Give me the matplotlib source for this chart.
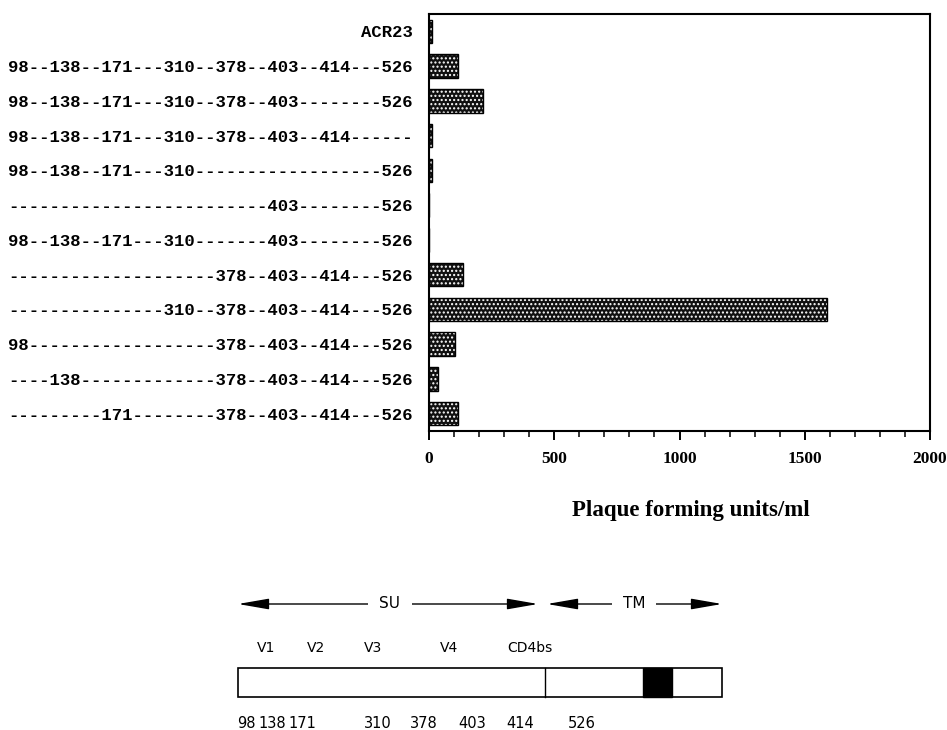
import matplotlib.pyplot as plt
from matplotlib.patches import Rectangle
from matplotlib.ticker import MultipleLocator

# constructs, top to bottom
constructs = [
    "ACR23",
    "98--138--171---310--378--403--414---526",
    "98--138--171---310--378--403--------526",
    "98--138--171---310--378--403--414------",
    "98--138--171---310------------------526",
    "-------------------------403--------526",
    "98--138--171---310-------403--------526",
    "--------------------378--403--414---526",
    "---------------310--378--403--414---526",
    "98------------------378--403--414---526",
    "----138-------------378--403--414---526",
    "---------171--------378--403--414---526",
]
pfu = [12, 116, 215, 12, 12, 0, 0, 136, 1590, 104, 36, 116]

# env schematic
region_names = ["V1", "V2", "V3", "V4", "CD4bs"]
region_x = [266, 316, 373, 449, 530]
residues = ["98", "138", "171", "310", "378", "403", "414", "526"]
residue_x = [246, 272, 302, 378, 424, 472, 520, 582]

W, H = 947, 730
fig = plt.figure(figsize=(W / 100, H / 100), dpi=100)

ax = fig.add_axes([429 / W, 1 - 431 / H, (930 - 429) / W, (431 - 14) / H])
ypos = list(range(len(constructs)))
ax.barh(ypos, pfu, height=0.68, color="#101010", edgecolor="white",
        hatch="....", linewidth=0)
ax.barh(ypos, pfu, height=0.68, fill=False, edgecolor="black", linewidth=1)

ax.set_xlim(0, 2000)
ax.set_ylim(11.5, -0.5)
ax.xaxis.set_major_locator(MultipleLocator(500))
ax.xaxis.set_minor_locator(MultipleLocator(100))
ax.tick_params(axis="x", which="major", length=6.5, width=1.4, pad=8)
ax.tick_params(axis="x", which="minor", length=4, width=1.1)
ax.tick_params(axis="y", length=0, pad=11.5)
for lbl in ax.get_xticklabels():
    lbl.set_fontfamily("Liberation Serif")
    lbl.set_fontweight("bold")
    lbl.set_fontsize(12.5)
ax.set_yticks(ypos)
ax.set_yticklabels(constructs, fontfamily="Liberation Mono",
                   fontweight="bold", fontsize=12.4)
for s in ax.spines.values():
    s.set_linewidth(1.5)

ax.set_xlabel("Plaque forming units/ml", fontfamily="Liberation Serif",
              fontweight="bold", fontsize=16.5)
ax.xaxis.set_label_coords(0.523, -0.19)
ax.xaxis.label.set_va("center")

# schematic of the envelope protein
sk = fig.add_axes([0, 0, 1, 1])
sk.set_xlim(0, W)
sk.set_ylim(H, 0)
sk.axis("off")

arrow_kw = dict(arrowstyle="<|-|>,head_length=1.9,head_width=0.33",
                color="black", lw=1, shrinkA=0, shrinkB=0)
sk.annotate("", xy=(538, 604), xytext=(238, 604), arrowprops=arrow_kw)
sk.annotate("", xy=(722, 604), xytext=(547, 604), arrowprops=arrow_kw)
for name, x in [("SU", 390), ("TM", 634)]:
    sk.text(x, 604, name, ha="center", va="center", fontsize=11,
            bbox=dict(facecolor="white", edgecolor="none", pad=8))

for name, x in zip(region_names, region_x):
    sk.text(x, 648, name, ha="center", va="center", fontsize=10)

sk.add_patch(Rectangle((238, 668), 722 - 238, 29, facecolor="white",
                       edgecolor="black", lw=1.2))
sk.plot([545, 545], [668, 697], color="black", lw=1)
sk.add_patch(Rectangle((643, 668), 29, 29, facecolor="black",
                       edgecolor="black", lw=1))

for name, x in zip(residues, residue_x):
    sk.text(x, 723, name, ha="center", va="center", fontsize=10.5)

fig.savefig("out.png", dpi=100)
